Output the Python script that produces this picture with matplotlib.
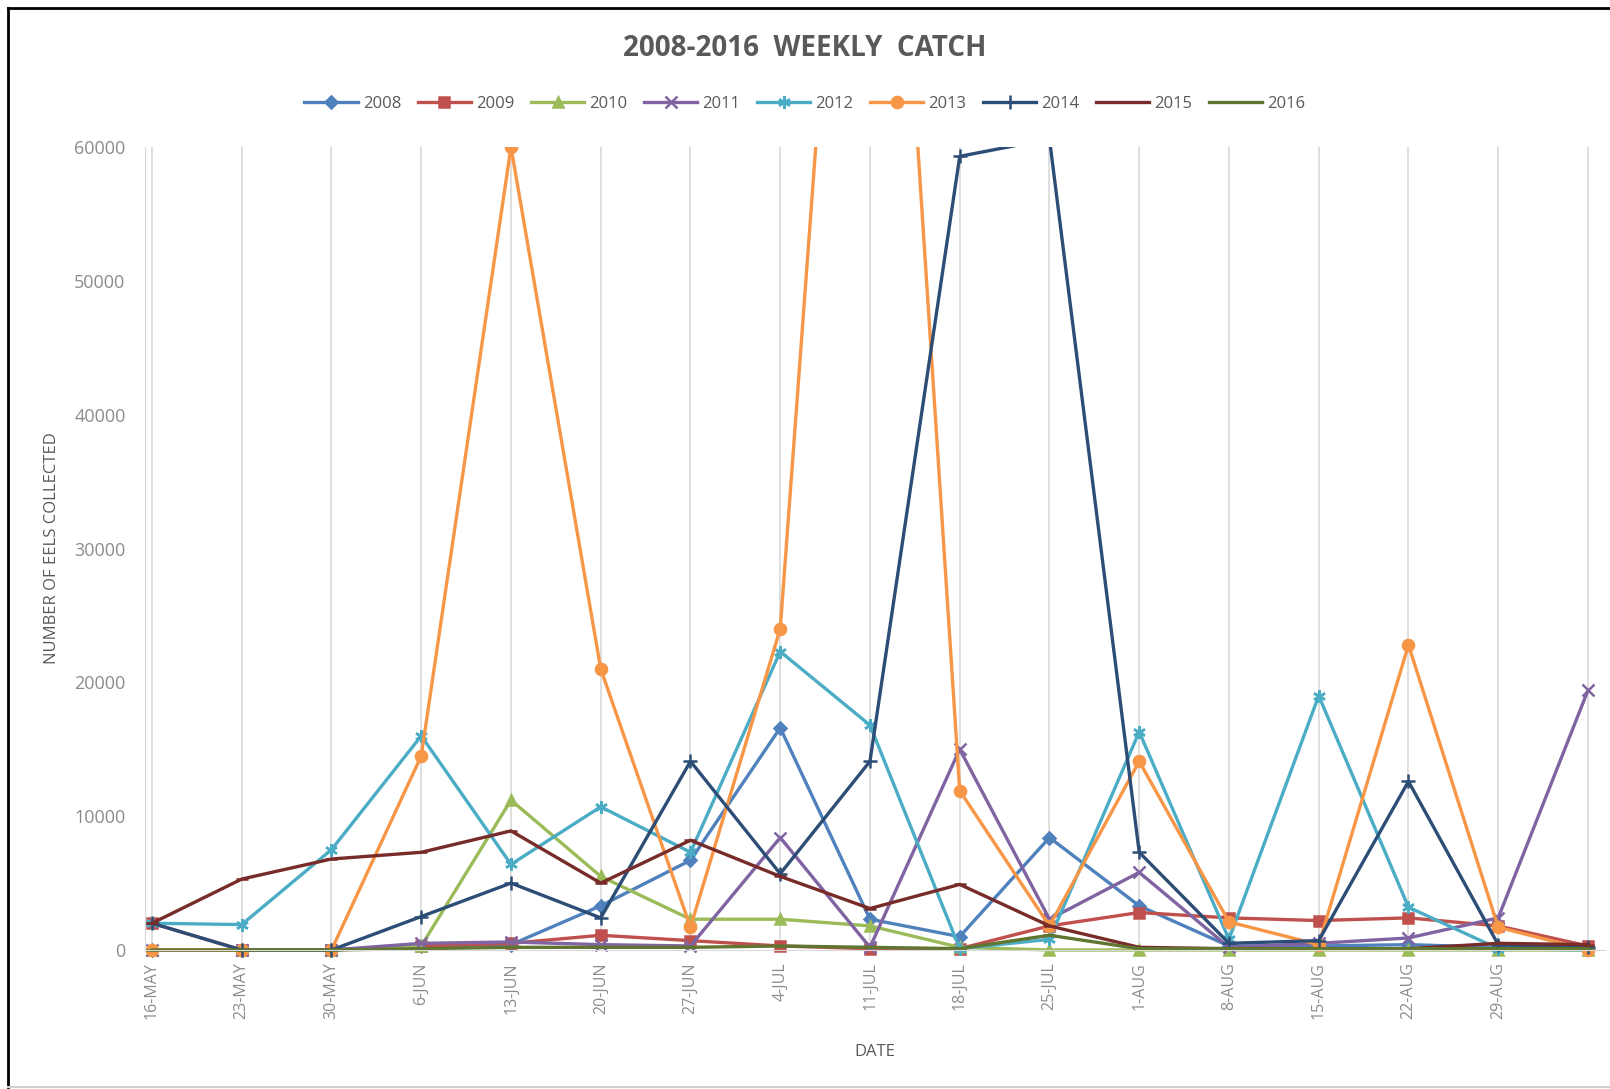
import matplotlib
matplotlib.use('Agg')
import matplotlib.pyplot as plt
from matplotlib.lines import Line2D
from matplotlib.patches import Rectangle

plt.rcParams['font.family'] = ['Open Sans', 'DejaVu Sans']

dates = ['16-MAY', '23-MAY', '30-MAY', '6-JUN', '13-JUN', '20-JUN', '27-JUN',
         '4-JUL', '11-JUL', '18-JUL', '25-JUL', '1-AUG', '8-AUG', '15-AUG',
         '22-AUG', '29-AUG', '']
years = ['2008', '2009', '2010', '2011', '2012', '2013', '2014', '2015', '2016']

v2008 = [0, 0, 0, 300, 400, 3300, 6700, 16600, 2300, 1000, 8400, 3300, 300, 300, 400, 200, 100]
v2009 = [2000, 0, 0, 300, 500, 1100, 700, 300, 100, 100, 1800, 2800, 2400, 2200, 2400, 1800, 300]
v2010 = [0, 0, 0, 300, 11200, 5500, 2300, 2300, 1800, 200, 0, 0, 0, 0, 0, 0, 0]
v2011 = [0, 0, 0, 500, 600, 400, 300, 8400, 200, 15000, 2300, 5800, 200, 500, 900, 2400, 19400]
v2012 = [2000, 1900, 7500, 16000, 6400, 10700, 7300, 22300, 16800, 100, 800, 16300, 800, 19000, 3200, 100, 0]
v2013 = [0, 0, 0, 14500, 60000, 21000, 1700, 24000, 115000, 11900, 1800, 14100, 2100, 400, 22800, 1700, 0]
v2014 = [2000, 0, 0, 2500, 5000, 2400, 14100, 5700, 14100, 59300, 60600, 7300, 500, 700, 12600, 400, 200]
v2015 = [2000, 5300, 6800, 7300, 8900, 5000, 8200, 5500, 3100, 4900, 1800, 200, 100, 100, 100, 500, 400]
v2016 = [0, 0, 0, 100, 200, 200, 200, 300, 200, 100, 1100, 100, 100, 100, 100, 100, 100]

series = [v2008, v2009, v2010, v2011, v2012, v2013, v2014, v2015, v2016]
colors = ['#4F81BD', '#C0504D', '#9BBB59', '#8064A2', '#4BACC6',
          '#F79646', '#2C4D75', '#772C2A', '#5F7530']
markers = ['D', 's', '^', 'x', (6, 2, 0), 'o', '+', '_', '_']
msizes = [6, 7, 7, 8, 9, 8, 10, 9, 9]

W, H = 1610, 1089
fig = plt.figure(figsize=(W / 100, H / 100), dpi=100)
ax = fig.add_axes([145 / W, 1 - 950 / H, 1460 / W, 803 / H])

x = list(range(len(dates)))
clip = Rectangle((-0.01, -0.03), 1.02, 1.03, transform=ax.transAxes)
handles = []
for yr, vals, c, m, ms in zip(years, series, colors, markers, msizes):
    ln, = ax.plot(x, vals, color=c, lw=2.4, marker=m, ms=ms, mfc=c, mec=c,
                  mew=1.8, label=yr)
    ln.set_clip_path(clip)
    handles.append(ln)

ax.set_ylim(0, 60000)
ax.set_xlim(-0.078, 16.19)
ax.set_yticks(range(0, 60001, 10000))
ax.set_xticks(x)
ax.set_xticklabels(dates, rotation=90, fontsize=11.5, color='#8C8C8C')
ax.tick_params(axis='y', labelsize=13, labelcolor='#8C8C8C', length=0, pad=14)
ax.tick_params(axis='x', length=0, pad=9)
for s in ['top', 'right']:
    ax.spines[s].set_visible(False)
ax.spines['left'].set_color('#D9D9D9')
ax.spines['bottom'].set_color('#D9D9D9')
ax.xaxis.grid(True, color='#D9D9D9', lw=1.2)
ax.set_axisbelow(True)

ax.set_ylabel('NUMBER OF EELS COLLECTED', fontsize=12, color='#595959', labelpad=10)
ax.set_xlabel('DATE', fontsize=12, color='#595959', labelpad=18)

fig.text(0.5, 1 - 49 / H, '2008-2016  WEEKLY  CATCH', ha='center', va='center',
         fontsize=20, fontweight='bold', color='#595959')

leg = fig.legend(handles=handles, loc='center', bbox_to_anchor=(0.5, 1 - 104 / H),
                 ncol=9, frameon=False, fontsize=12, handlelength=3.2,
                 columnspacing=1.0, handletextpad=0.3)
for t in leg.get_texts():
    t.set_color('#595959')

# outer frame (left/top black, bottom light gray)
fig.add_artist(Line2D([8 / W, 8 / W], [1 - 8 / H, 1 - 1087 / H], color='black', lw=2,
                      transform=fig.transFigure))
fig.add_artist(Line2D([8 / W, 1.0], [1 - 8 / H, 1 - 8 / H], color='black', lw=2,
                      transform=fig.transFigure))
fig.add_artist(Line2D([8 / W, 1.0], [1 - 1087 / H, 1 - 1087 / H], color='#D0D0D0', lw=1.5,
                      transform=fig.transFigure))

fig.savefig('out.png', dpi=100)
